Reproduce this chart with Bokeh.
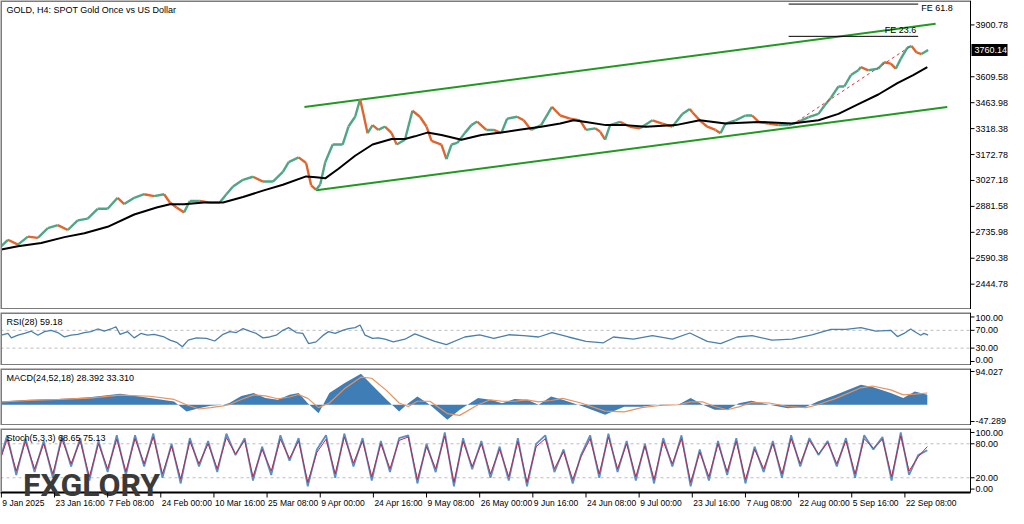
from bokeh.plotting import figure
from bokeh.layouts import column
from bokeh.models import Range1d
from bokeh.embed import file_html
from bokeh.resources import INLINE
from bokeh.core.properties import value

# ---------------- data ----------------
title_text = "GOLD, H4:  SPOT Gold Once vs US Dollar"
last_price = 3760.14

date_ticks = [0, 64, 128, 192, 256, 320, 384, 448, 512, 576, 640, 704, 768, 832, 896, 960, 1024, 1088]
date_labels = ["9 Jan 2025", "23 Jan 16:00", "7 Feb 08:00", "24 Feb 00:00", "10 Mar 16:00",
               "25 Mar 08:00", "9 Apr 00:00", "24 Apr 16:00", "9 May 08:00", "26 May 00:00",
               "9 Jun 16:00", "24 Jun 08:00", "9 Jul 00:00", "23 Jul 16:00", "7 Aug 08:00",
               "22 Aug 00:00", "5 Sep 16:00", "22 Sep 08:00"]

price_ticks = [2444.78, 2590.38, 2735.98, 2881.58, 3027.18, 3172.78, 3318.38, 3463.98, 3609.58, 3900.78]
rsi_ticks = [0, 30, 70, 100]
macd_ticks = [-47.289, 94.027]
stoch_ticks = [0, 20, 80, 100]

price_bar = [0, 8, 20, 32, 44, 56, 68, 80, 92, 104, 116, 128, 140, 148, 160, 172, 184, 196, 203, 211,
             220, 227, 239, 251, 263, 271, 279, 291, 303, 315, 327, 339, 346, 358, 367, 373, 379, 384, 390, 399,
             411, 418, 426, 432, 436, 441, 447, 454, 462, 470, 476, 486, 495, 504, 512, 518, 530, 536, 542, 549,
             558, 566, 573, 584, 593, 602, 609, 621, 629, 638, 650, 663, 673, 685, 697, 704, 715, 721, 727, 733,
             745, 757, 769, 784, 796, 808, 820, 829, 832, 841, 850, 860, 866, 872, 884, 896, 904, 912, 924, 936,
             948, 960, 972, 984, 991, 999, 1008, 1015, 1023, 1032, 1035, 1044, 1056, 1063, 1071, 1077, 1083, 1091, 1096, 1102,
             1108, 1116]
price_close = [2658, 2694, 2667, 2712, 2705, 2759, 2776, 2749, 2803, 2813, 2868, 2868, 2930, 2895, 2930, 2950, 2939, 2950, 2903, 2875,
               2848, 2912, 2912, 2903, 2903, 2950, 2993, 3031, 3048, 3021, 3021, 3075, 3130, 3157, 3125, 3000, 2975, 3004, 3129, 3229,
               3229, 3330, 3385, 3483, 3401, 3293, 3338, 3311, 3330, 3293, 3229, 3256, 3419, 3385, 3330, 3249, 3229, 3147, 3229, 3238,
               3293, 3338, 3358, 3311, 3311, 3293, 3374, 3385, 3365, 3311, 3338, 3440, 3392, 3374, 3365, 3311, 3320, 3302, 3256, 3338,
               3356, 3329, 3320, 3365, 3347, 3329, 3401, 3429, 3410, 3365, 3329, 3311, 3293, 3347, 3365, 3392, 3392, 3356, 3347, 3338,
               3338, 3356, 3383, 3401, 3447, 3492, 3555, 3555, 3619, 3646, 3664, 3646, 3655, 3691, 3683, 3655, 3710, 3773, 3782, 3746,
               3737, 3760.14]

ma_bar = [0, 20, 48, 76, 100, 128, 160, 187, 203, 220, 244, 267, 291, 315, 339, 367, 379, 390, 406, 426,
          447, 470, 486, 498, 513, 530, 554, 578, 602, 626, 650, 673, 689, 704, 728, 752, 776, 812, 841, 872,
          912, 952, 984, 1008, 1032, 1056, 1079, 1098, 1115]
ma_val = [2640, 2658, 2676, 2709, 2731, 2767, 2836, 2875, 2894, 2894, 2903, 2903, 2934, 2970, 3003, 3050, 3045, 3039, 3093, 3166,
          3229, 3260, 3260, 3275, 3296, 3283, 3256, 3283, 3296, 3314, 3329, 3347, 3365, 3356, 3338, 3338, 3329, 3338, 3365, 3347,
          3356, 3347, 3365, 3401, 3456, 3510, 3574, 3619, 3664]

channel_upper_bar = [365, 1125]
channel_upper_val = [3439.5, 3907.0]
channel_lower_bar = [379, 1139]
channel_lower_val = [2971.7, 3439.5]

fe_bar = [948, 1104]
fe_levels = [3836.6, 4017.8]
fe_names = ["FE 23.6", "FE 61.8"]
fe_base_bar = [958, 1095]
fe_base_val = [3358, 3782]

rsi_bar = [0, 8, 12, 20, 28, 36, 44, 52, 60, 68, 76, 84, 92, 100, 108, 116, 124, 132, 138, 143,
           152, 160, 168, 176, 184, 196, 203, 211, 218, 225, 235, 247, 257, 267, 275, 283, 291, 299, 307, 315,
           323, 331, 339, 346, 355, 363, 370, 379, 387, 394, 402, 411, 418, 426, 432, 438, 447, 454, 462, 472,
           486, 498, 522, 536, 558, 576, 593, 611, 629, 647, 663, 683, 704, 725, 737, 761, 784, 808, 829, 850,
           866, 886, 904, 928, 952, 976, 999, 1017, 1035, 1053, 1071, 1079, 1087, 1095, 1099, 1107, 1111, 1116]
rsi_val = [59, 63, 53, 59, 63, 68, 59, 67, 70, 65, 55, 59, 61, 65, 67, 73, 68, 73, 78, 61,
           67, 53, 63, 59, 61, 55, 48, 43, 33, 48, 53, 52, 46, 61, 67, 65, 74, 68, 63, 53,
           55, 59, 70, 76, 65, 63, 40, 44, 58, 67, 63, 70, 74, 76, 82, 59, 52, 53, 50, 44,
           50, 62, 45, 38, 55, 60, 52, 60, 58, 55, 65, 55, 45, 42, 55, 50, 58, 50, 64, 45,
           40, 55, 58, 48, 50, 60, 72, 72, 76, 68, 70, 56, 63, 73, 68, 59, 63, 59.18]

macd_bar = [0, 33, 70, 106, 143, 179, 208, 223, 238, 252, 267, 274, 289, 304, 318, 333, 347, 358, 369, 382,
            395, 413, 433, 446, 464, 479, 490, 501, 516, 537, 552, 574, 589, 603, 618, 633, 647, 662, 676, 698,
            727, 750, 771, 793, 815, 830, 845, 859, 874, 888, 903, 925, 947, 969, 983, 1005, 1035, 1049, 1071, 1086,
            1100, 1115]
macd_hist = [9.3, 14, 16, 21.5, 31, 19, 9, -19, -9.6, -3, 0, 4.5, 25, 33, 19, 14, 28, 33, 4.5, -24,
             33, 61, 87.6, 56.5, 14, -19, 4.5, 23.5, 0, -42, -14, 19, 14, 4.5, 16, 14, 0, 23.5, 14, -3,
             -28, -5.6, -5.6, 1, 0, 19, 0, -14, -14, 4.5, 11, 0, -9.6, -5.6, 9.3, 28, 56.5, 50, 33, 19,
             37.6, 28.392]
macd_signal = [8, 12, 15, 19, 27, 24, 15, 0, -12, -8, -3, 0, 15, 28, 25, 17, 22, 29, 18, -8,
               5, 45, 78, 75, 40, 5, -5, 10, 10, -25, -30, 0, 14, 10, 10, 14, 8, 12, 18, 5,
               -18, -20, -8, -2, 0, 8, 8, -5, -14, -6, 6, 5, -5, -8, 0, 18, 48, 53, 42, 28,
               30, 33.31]

stoch_bar = [0, 7, 18, 29, 40, 51, 62, 73, 84, 95, 106, 117, 128, 139, 150, 161, 172, 183, 194, 205,
             216, 227, 238, 249, 260, 271, 282, 293, 303, 314, 325, 336, 347, 358, 369, 380, 391, 402, 413, 424,
             435, 446, 457, 468, 479, 490, 501, 512, 523, 534, 545, 556, 567, 578, 589, 600, 611, 622, 633, 644,
             655, 666, 677, 688, 698, 709, 720, 731, 742, 753, 764, 775, 786, 797, 808, 819, 830, 841, 852, 863,
             874, 885, 896, 907, 918, 929, 940, 951, 962, 973, 984, 995, 1006, 1017, 1028, 1039, 1050, 1061, 1072, 1083,
             1093, 1104, 1115]
stoch_k = [60, 95, 25, 90, 30, 85, 20, 95, 40, 90, 15, 85, 30, 95, 25, 95, 40, 98, 20, 80,
           10, 90, 40, 85, 30, 98, 60, 90, 15, 75, 25, 95, 50, 90, 5, 70, 95, 20, 98, 40,
           90, 15, 85, 30, 90, 95, 10, 80, 30, 100, 5, 90, 35, 85, 20, 75, 15, 90, 5, 80,
           95, 30, 70, 10, 60, 95, 20, 98, 30, 85, 15, 80, 10, 90, 40, 95, 5, 70, 15, 85,
           25, 90, 10, 75, 30, 85, 20, 95, 40, 90, 60, 85, 40, 90, 20, 95, 70, 92, 15, 100,
           25, 60, 68.65]
stoch_d = [58, 88, 32, 84, 36, 80, 27, 88, 45, 85, 22, 80, 36, 88, 31, 89, 45, 92, 27, 76,
           18, 84, 45, 80, 36, 91, 62, 86, 22, 70, 32, 88, 54, 85, 12, 65, 88, 27, 92, 46,
           85, 22, 80, 36, 86, 92, 17, 75, 36, 94, 12, 84, 40, 80, 27, 70, 22, 84, 12, 75,
           89, 36, 66, 17, 57, 89, 27, 92, 36, 80, 22, 76, 17, 84, 45, 89, 12, 65, 22, 80,
           31, 84, 17, 70, 36, 80, 27, 89, 45, 86, 62, 82, 45, 85, 27, 89, 72, 88, 22, 94,
           32, 57, 75.13]

# ---------------- layout constants ----------------
FONT = "Liberation Sans"
FW = 1008                 # frame width (whole row incl. price scale)
AXIS_PX = 970             # where the price scale line sits
X_START, X_AXIS = -1, 1167
BPX = (X_AXIS - X_START) / AXIS_PX      # bars per pixel
X_END = X_START + FW * BPX
xr = Range1d(X_START, X_END)
UP, DOWN = "#4fa584", "#e0642c"
BORDER = "#7c7c7c"


def make_fig(h, y0, y1):
    p = figure(frame_width=FW, frame_height=h, x_range=xr, y_range=Range1d(y0, y1),
               output_backend="svg", toolbar_location=None, tools="",
               x_axis_location=None, y_axis_location=None, min_border=0,
               outline_line_color=None, background_fill_color="white", border_fill_color="white")
    p.xgrid.visible = False
    p.ygrid.visible = False
    return p


def price_scale(p, ybot, ytop, ticks, fmt, offsets=None):
    p.line([X_AXIS, X_START, X_START, X_AXIS], [ytop, ytop, ybot, ybot], line_color=BORDER, line_width=3)
    p.line([X_AXIS, X_AXIS], [ybot, ytop], line_color="black", line_width=1)
    n = len(ticks)
    p.segment(x0=[X_AXIS] * n, y0=ticks, x1=[X_AXIS + 4 * BPX] * n, y1=ticks, line_color="black", line_width=1)
    offs = offsets or [0] * n
    for t, o in zip(ticks, offs):
        p.text(x=[X_AXIS], y=[t], text=[fmt % t], x_offset=5, y_offset=o, text_baseline="middle",
               text_align="left", text_font=value(FONT), text_font_size="9px", text_color="black")


def corner(p, text, ytop):
    p.text(x=[X_START], y=[ytop], text=[text], x_offset=6, y_offset=4, text_baseline="top",
           text_align="left", text_font=value(FONT), text_font_size="9px", text_color="black")


# ---------------- main price panel ----------------
M0, M1 = 2302.5, 4037.9
MH = 309
UPP = (M1 - M0) / MH
main = make_fig(MH, M0, M1)

main.line(channel_upper_bar, channel_upper_val, line_color="#1e9a1e", line_width=2)
main.line(channel_lower_bar, channel_lower_val, line_color="#1e9a1e", line_width=2)

seg_colors = [UP if b >= a else DOWN for a, b in zip(price_close[:-1], price_close[1:])]
main.segment(x0=price_bar[:-1], y0=price_close[:-1], x1=price_bar[1:], y1=price_close[1:],
             line_color=seg_colors, line_width=2.4)
main.line(ma_bar, ma_val, line_color="black", line_width=2)

main.line(fe_base_bar, fe_base_val, line_color="#d04040", line_width=1, line_dash="3 3")
for lvl in fe_levels:
    main.line(fe_bar, [lvl, lvl], line_color="black", line_width=1)
main.text(x=[fe_bar[1]], y=[fe_levels[0]], text=[fe_names[0]], text_align="right", text_baseline="bottom",
          text_font=value(FONT), text_font_size="9px", text_color="black", x_offset=-2, y_offset=-1)
main.text(x=[fe_bar[1]], y=[M1], text=[fe_names[1]], text_align="left", text_baseline="top",
          text_font=value(FONT), text_font_size="9px", text_color="black", x_offset=3, y_offset=2)

price_scale(main, M0, M1, price_ticks, "%.2f")
main.quad(left=[X_AXIS + 1 * BPX], right=[X_AXIS + 37 * BPX], bottom=[last_price - 6 * UPP],
          top=[last_price + 6 * UPP], fill_color="black", line_color=None)
main.text(x=[X_AXIS], y=[last_price], text=["%.2f" % last_price], x_offset=4, text_baseline="middle",
          text_align="left", text_font=value(FONT), text_font_size="9px", text_color="white")
corner(main, title_text, M1)

# ---------------- RSI ----------------
R0, R1 = -9, 110
rsi = make_fig(53, R0, R1)
for lv in (70, 30):
    rsi.line([X_START, X_AXIS], [lv, lv], line_color="#bcbcbc", line_dash="3 3", line_width=1)
rsi.line(rsi_bar, rsi_val, line_color="#4a7fab", line_width=1.3)
price_scale(rsi, R0, R1, rsi_ticks, "%.2f", offsets=[-1, 0, 0, 1])
corner(rsi, "RSI(28) %.2f" % rsi_val[-1], R1)

# ---------------- MACD ----------------
C0, C1 = -58.6, 102.5
macd = make_fig(57, C0, C1)
macd.varea(x=macd_bar, y1=0, y2=macd_hist, fill_color="#3f7db6")
macd.line(macd_bar, macd_signal, line_color="#e8935c", line_width=1.2)
price_scale(macd, C0, C1, macd_ticks, "%.3f", offsets=[0, 1])
corner(macd, "MACD(24,52,18) %.3f %.3f" % (macd_hist[-1], macd_signal[-1]), C1)

# ---------------- Stochastic + time scale ----------------
S_PANEL_BOT, S1 = -6, 107
S_PH = 64
UPS = (S1 - S_PANEL_BOT) / S_PH
S0 = S_PANEL_BOT - 16 * UPS
stoch = make_fig(S_PH + 16, S0, S1)
for lv in (80, 20):
    stoch.line([X_START, X_AXIS], [lv, lv], line_color="#bcbcbc", line_dash="3 3", line_width=1)
stoch.line(stoch_bar, stoch_k, line_color="#5a8fc6", line_width=1.8)
stoch.line(stoch_bar, stoch_d, line_color="#b52a4e", line_width=1)
price_scale(stoch, S_PANEL_BOT, S1, stoch_ticks, "%.2f", offsets=[0, 0, 0, 1])
stoch.line([X_START, X_AXIS], [S_PANEL_BOT, S_PANEL_BOT], line_color="black", line_width=1)
corner(stoch, "Stoch(5,3,3) %.2f %.2f" % (stoch_k[-1], stoch_d[-1]), S1)
stoch.text(x=[26], y=[S_PANEL_BOT], text=["FXGLORY"], text_font=value("Roboto"), text_font_style="bold",
           text_font_size="32px", text_color="#3a3a3a", text_baseline="alphabetic", text_align="left",
           y_offset=-8)

nd = len(date_ticks)
stoch.segment(x0=date_ticks, y0=[S_PANEL_BOT] * nd, x1=date_ticks, y1=[S_PANEL_BOT - 5 * UPS] * nd,
              line_color="black", line_width=1)
stoch.text(x=date_ticks, y=[S_PANEL_BOT] * nd, text=date_labels, x_offset=1, y_offset=5,
           text_baseline="top", text_align="left", text_font=value(FONT), text_font_size="8.5px",
           text_color="black")

layout = column(main, rsi, macd, stoch, spacing=3)
open("out.html", "w").write(file_html(layout, INLINE))
